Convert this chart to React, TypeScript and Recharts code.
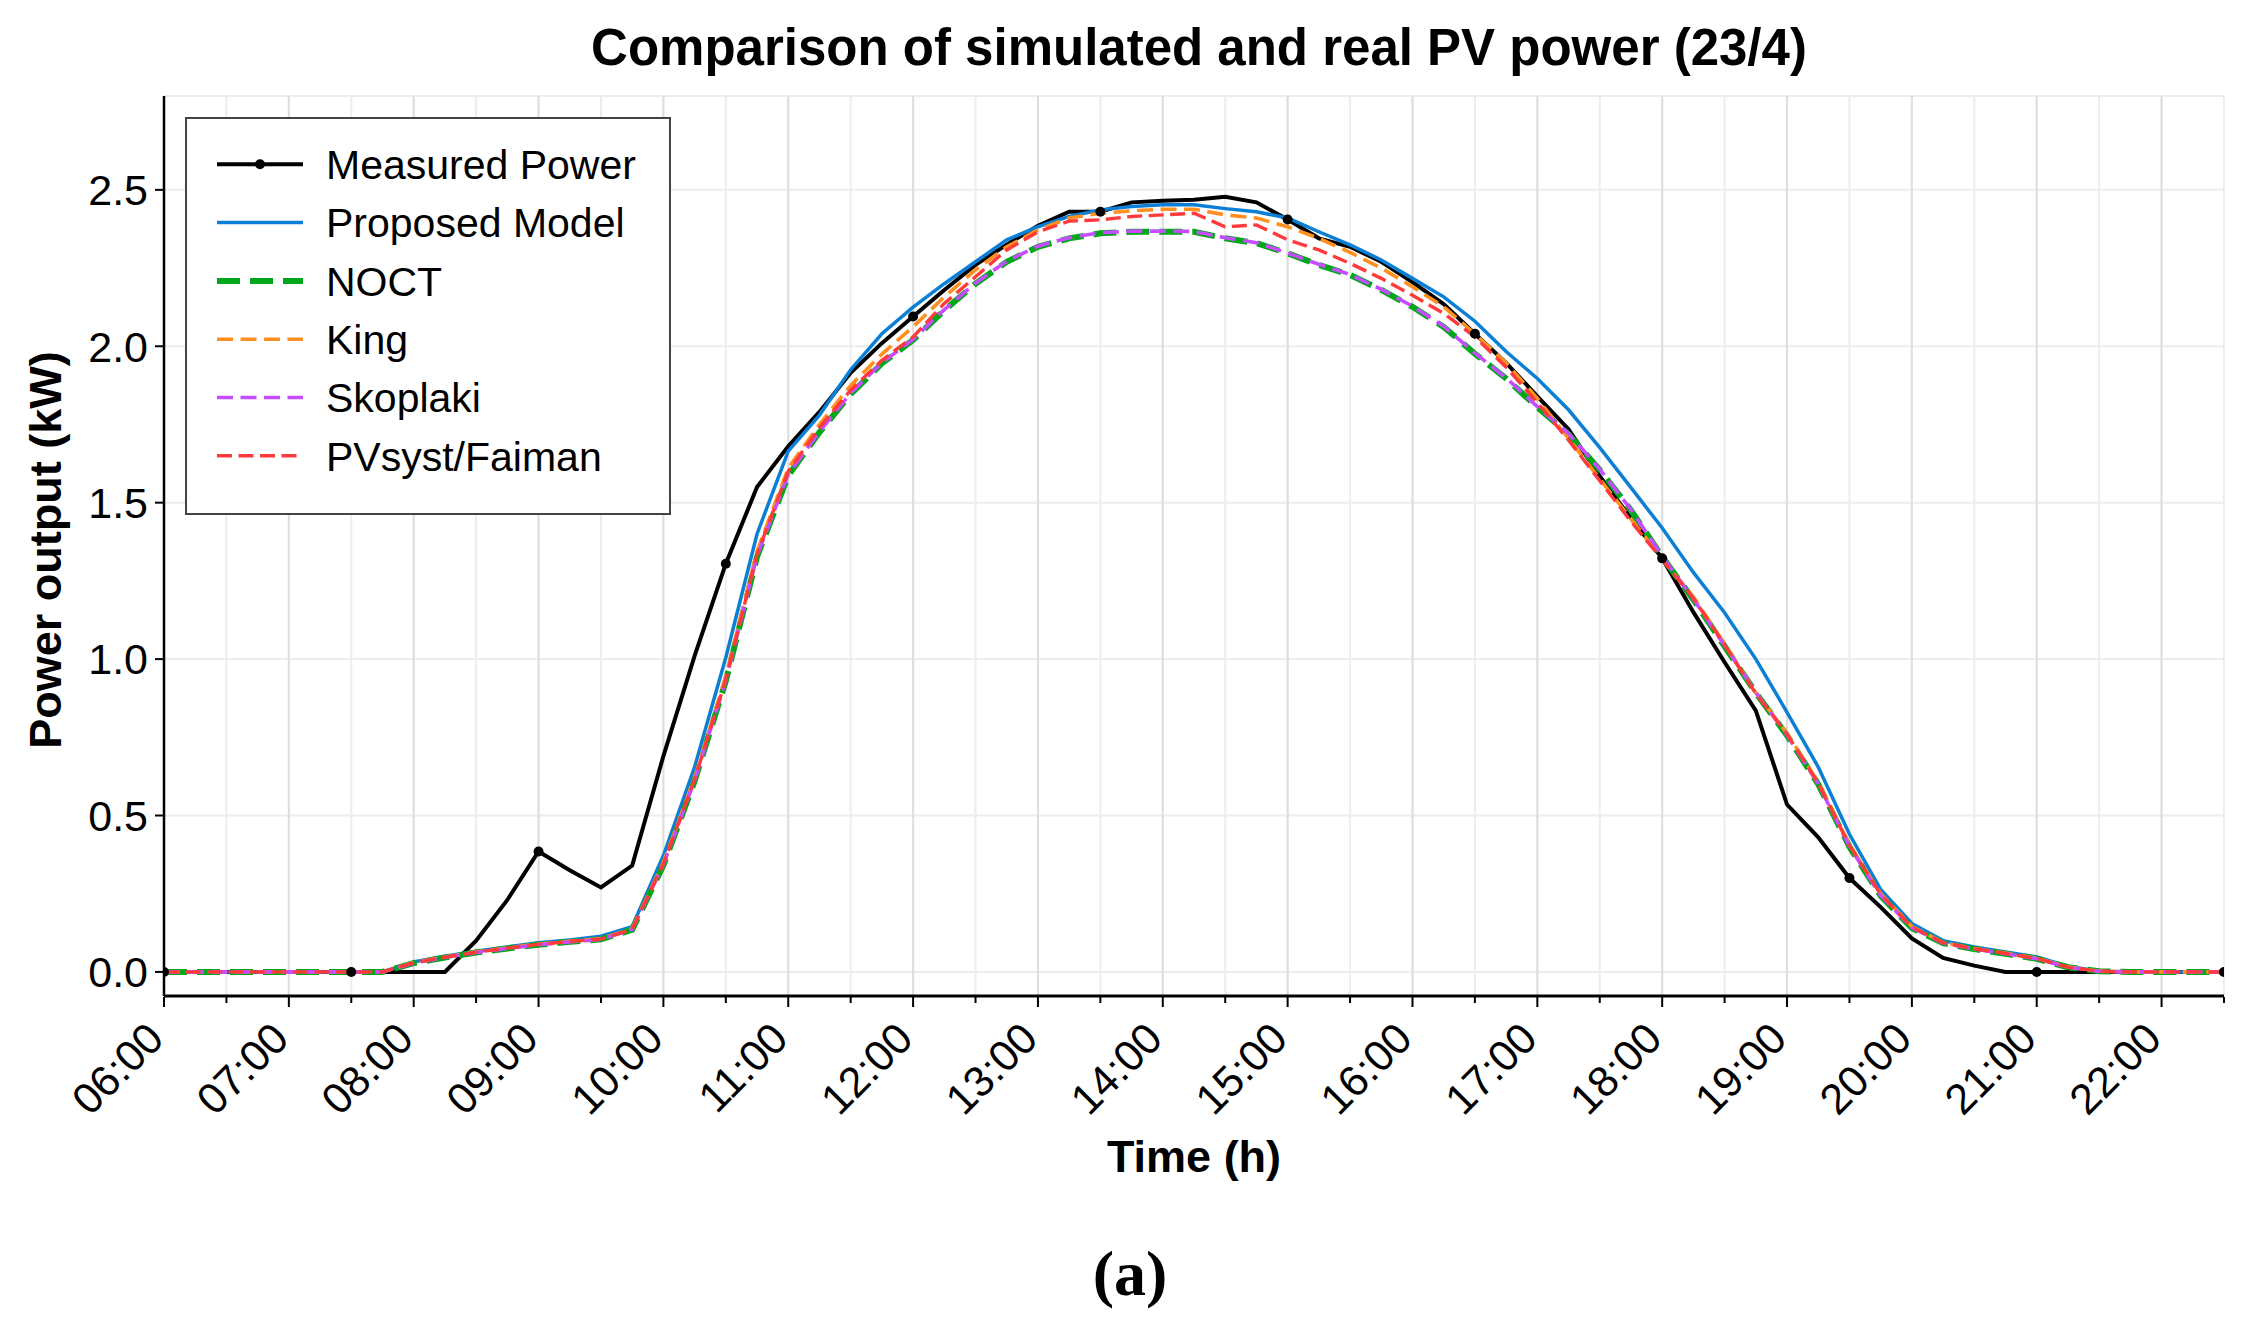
import React from 'react'
import { LineChart, Line, XAxis, YAxis, CartesianGrid, ReferenceLine, Legend } from 'recharts'

// 15-min samples, 06:00 .. 22:30
const TIMES = [
  '06:00', '06:15', '06:30', '06:45', '07:00', '07:15', '07:30', '07:45',
  '08:00', '08:15', '08:30', '08:45', '09:00', '09:15', '09:30', '09:45',
  '10:00', '10:15', '10:30', '10:45', '11:00', '11:15', '11:30', '11:45',
  '12:00', '12:15', '12:30', '12:45', '13:00', '13:15', '13:30', '13:45',
  '14:00', '14:15', '14:30', '14:45', '15:00', '15:15', '15:30', '15:45',
  '16:00', '16:15', '16:30', '16:45', '17:00', '17:15', '17:30', '17:45',
  '18:00', '18:15', '18:30', '18:45', '19:00', '19:15', '19:30', '19:45',
  '20:00', '20:15', '20:30', '20:45', '21:00', '21:15', '21:30', '21:45',
  '22:00', '22:15', '22:30',
]

const MEASURED = [
  0, 0, 0, 0, 0, 0, 0, 0, 0, 0, 0.10, 0.23, 0.385, 0.325, 0.27, 0.34,
  0.69, 1.01, 1.305, 1.55, 1.68, 1.79, 1.915, 2.01, 2.095, 2.18, 2.26, 2.325,
  2.385, 2.43, 2.43, 2.46, 2.465, 2.468, 2.478, 2.46, 2.405, 2.345, 2.318, 2.27,
  2.205, 2.135, 2.04, 1.947, 1.84, 1.735, 1.585, 1.45, 1.322, 1.15, 0.99, 0.835,
  0.535, 0.43, 0.30, 0.207, 0.107, 0.045, 0.02, 0, 0, 0, 0, 0, 0, 0, 0,
]

const PROPOSED = [
  0, 0, 0, 0, 0, 0, 0, 0, 0.032, 0.05, 0.066, 0.08, 0.093, 0.102, 0.114, 0.145,
  0.372, 0.655, 1.005, 1.40, 1.665, 1.78, 1.925, 2.04, 2.125, 2.20, 2.27, 2.34,
  2.382, 2.415, 2.436, 2.447, 2.452, 2.452, 2.44, 2.43, 2.41, 2.366, 2.324, 2.276,
  2.217, 2.158, 2.08, 1.983, 1.897, 1.797, 1.676, 1.548, 1.419, 1.277, 1.148, 1.0,
  0.83, 0.655, 0.44, 0.264, 0.155, 0.10, 0.08, 0.064, 0.048, 0.018, 0.002, 0, 0, 0, 0,
]

const NOCT = [
  0, 0, 0, 0, 0, 0, 0, 0, 0.028, 0.046, 0.062, 0.075, 0.087, 0.096, 0.104, 0.135,
  0.341, 0.61, 0.93, 1.327, 1.587, 1.725, 1.847, 1.945, 2.02, 2.115, 2.2, 2.27,
  2.318, 2.345, 2.361, 2.366, 2.366, 2.366, 2.345, 2.33, 2.297, 2.26, 2.228, 2.18,
  2.126, 2.062, 1.976, 1.897, 1.805, 1.719, 1.605, 1.476, 1.327, 1.19, 1.041, 0.892,
  0.756, 0.60, 0.40, 0.243, 0.14, 0.092, 0.073, 0.058, 0.042, 0.015, 0.002, 0, 0, 0, 0,
]

const KING = [
  0, 0, 0, 0, 0, 0, 0, 0, 0.03, 0.048, 0.064, 0.077, 0.089, 0.098, 0.106, 0.138,
  0.35, 0.62, 0.945, 1.345, 1.61, 1.75, 1.875, 1.975, 2.062, 2.158, 2.244, 2.318,
  2.372, 2.41, 2.425, 2.433, 2.438, 2.438, 2.42, 2.41, 2.382, 2.345, 2.30, 2.25,
  2.19, 2.126, 2.04, 1.947, 1.833, 1.705, 1.576, 1.448, 1.32, 1.198, 1.049, 0.892,
  0.763, 0.606, 0.407, 0.25, 0.145, 0.094, 0.075, 0.06, 0.044, 0.016, 0.002, 0, 0, 0, 0,
]

const SKOPLAKI = [
  0, 0, 0, 0, 0, 0, 0, 0, 0.028, 0.046, 0.062, 0.075, 0.087, 0.096, 0.104, 0.136,
  0.343, 0.612, 0.932, 1.33, 1.59, 1.727, 1.85, 1.947, 2.022, 2.117, 2.202, 2.272,
  2.32, 2.347, 2.363, 2.368, 2.368, 2.367, 2.347, 2.331, 2.298, 2.262, 2.229, 2.182,
  2.128, 2.064, 1.978, 1.899, 1.807, 1.721, 1.607, 1.478, 1.329, 1.192, 1.043, 0.894,
  0.757, 0.601, 0.401, 0.244, 0.141, 0.092, 0.073, 0.058, 0.042, 0.015, 0.002, 0, 0, 0, 0,
]

const FAIMAN = [
  0, 0, 0, 0, 0, 0, 0, 0, 0.029, 0.047, 0.063, 0.076, 0.088, 0.097, 0.105, 0.136,
  0.345, 0.615, 0.935, 1.335, 1.60, 1.74, 1.86, 1.955, 2.03, 2.137, 2.222, 2.308,
  2.366, 2.40, 2.404, 2.415, 2.42, 2.425, 2.382, 2.388, 2.34, 2.308, 2.265, 2.217,
  2.163, 2.105, 2.03, 1.933, 1.82, 1.70, 1.57, 1.44, 1.318, 1.195, 1.045, 0.89,
  0.76, 0.603, 0.404, 0.248, 0.143, 0.093, 0.074, 0.059, 0.043, 0.015, 0.002, 0, 0, 0, 0,
]

const HOUR_TICKS = [
  '06:00', '07:00', '08:00', '09:00', '10:00', '11:00', '12:00', '13:00', '14:00',
  '15:00', '16:00', '17:00', '18:00', '19:00', '20:00', '21:00', '22:00',
]
const HALF_TICKS = [
  '06:30', '07:30', '08:30', '09:30', '10:30', '11:30', '12:30', '13:30', '14:30',
  '15:30', '16:30', '17:30', '18:30', '19:30', '20:30', '21:30', '22:30',
]
const Y_TICKS = [0, 0.5, 1.0, 1.5, 2.0, 2.5]

const FONT = '"Liberation Sans", Arial, Helvetica, sans-serif'

const toHours = (s: string) => {
  const [h, m] = s.split(':').map(Number)
  return h + m / 60
}

const data = TIMES.map((t, i) => ({
  t: toHours(t),
  measured: MEASURED[i],
  proposed: PROPOSED[i],
  noct: NOCT[i],
  king: KING[i],
  skoplaki: SKOPLAKI[i],
  faiman: FAIMAN[i],
}))

const SERIES = [
  { key: 'measured', name: 'Measured Power', color: '#000000', width: 4, dash: undefined },
  { key: 'proposed', name: 'Proposed Model', color: '#0b7fd6', width: 3.5, dash: undefined },
  { key: 'noct', name: 'NOCT', color: '#00a819', width: 6, dash: '23 10' },
  { key: 'king', name: 'King', color: '#ff9020', width: 3.6, dash: '16 7.5' },
  { key: 'skoplaki', name: 'Skoplaki', color: '#c64cff', width: 3.6, dash: '16 7.5' },
  { key: 'faiman', name: 'PVsyst/Faiman', color: '#ff3a3a', width: 3.4, dash: '15 6.5' },
]

const hourTickValues = HOUR_TICKS.map(toHours)
const allTickValues = [...HOUR_TICKS, ...HALF_TICKS].map(toHours).sort((a, b) => a - b)

function XTick(props: any) {
  const { x, y, payload } = props
  const label = HOUR_TICKS.find((h) => toHours(h) === payload.value)
  const len = label ? 10 : 6
  return (
    <g>
      <line x1={x} x2={x} y1={y} y2={y + len} stroke="#000" strokeWidth={2} />
      {label && (
        <text
          x={x + 2}
          y={y + 44}
          textAnchor="end"
          transform={`rotate(-45, ${x + 2}, ${y + 44})`}
          fontSize={43}
          fontFamily={FONT}
          fill="#000"
        >
          {label}
        </text>
      )}
    </g>
  )
}

function MeasuredDot(props: any) {
  const { cx, cy, index } = props
  if (index % 6 !== 0) return <g key={`d${index}`} />
  return <circle key={`d${index}`} cx={cx} cy={cy} r={5} fill="#000" />
}

function LegendBox() {
  return (
    <svg width={486} height={398}>
      <rect x={1} y={1} width={484} height={396} fill="#fff" stroke="#444" strokeWidth={2} />
      {SERIES.map((s, i) => {
        const cy = 47.3 + i * 58.3
        return (
          <g key={s.key}>
            <line
              x1={32}
              x2={118}
              y1={cy}
              y2={cy}
              stroke={s.color}
              strokeWidth={s.width}
              strokeDasharray={s.dash}
            />
            {s.key === 'measured' && <circle cx={75} cy={cy} r={5} fill="#000" />}
            <text x={141} y={cy} dy="0.36em" fontSize={41} fontFamily={FONT} fill="#000">
              {s.name}
            </text>
          </g>
        )
      })}
    </svg>
  )
}

export default function App() {
  return (
    <div
      style={{
        position: 'absolute',
        left: 0,
        top: 0,
        width: 2249,
        height: 1333,
        background: '#fff',
        fontFamily: FONT,
      }}
    >
      <LineChart
        width={2249}
        height={1333}
        data={data}
        margin={{ top: 96, right: 25, left: 0, bottom: 327 }}
      >
        <CartesianGrid stroke="#ededed" strokeWidth={2} />
        {hourTickValues.map((h) => (
          <ReferenceLine key={h} x={h} stroke="#dedede" strokeWidth={2} />
        ))}
        <XAxis
          type="number"
          dataKey="t"
          domain={[6, 22.5]}
          ticks={allTickValues}
          interval={0}
          allowDataOverflow
          height={10}
          tickSize={1}
          tickMargin={0}
          tickLine={false}
          tick={<XTick />}
          axisLine={{ stroke: '#000', strokeWidth: 3 }}
        />
        <YAxis
          type="number"
          domain={[-0.077, 2.8]}
          ticks={Y_TICKS}
          interval={0}
          allowDataOverflow
          width={164}
          tickSize={9}
          tickMargin={7}
          tickFormatter={(v: number) => v.toFixed(1)}
          tick={{ fill: '#000', fontSize: 43, fontFamily: FONT }}
          tickLine={{ stroke: '#000', strokeWidth: 2 }}
          axisLine={{ stroke: '#000', strokeWidth: 2.5 }}
        />
        <Legend
          layout="vertical"
          align="center"
          verticalAlign="middle"
          content={() => <LegendBox />}
          wrapperStyle={{ left: 185, top: 117, width: 486, height: 398 }}
        />
        {SERIES.map((s) => (
          <Line
            key={s.key}
            type="linear"
            dataKey={s.key}
            name={s.name}
            stroke={s.color}
            strokeWidth={s.width}
            strokeDasharray={s.dash}
            dot={s.key === 'measured' ? <MeasuredDot /> : false}
            activeDot={false}
            isAnimationActive={false}
          />
        ))}
      </LineChart>

      <div
        style={{
          position: 'absolute',
          left: 1199,
          top: 47,
          transform: 'translate(-50%, -50%)',
          whiteSpace: 'nowrap',
          fontSize: 51,
          fontWeight: 'bold',
        }}
      >
        Comparison of simulated and real PV power (23/4)
      </div>
      <div
        style={{
          position: 'absolute',
          left: 46,
          top: 550,
          transform: 'translate(-50%, -50%) rotate(-90deg)',
          whiteSpace: 'nowrap',
          fontSize: 45,
          fontWeight: 'bold',
        }}
      >
        Power output (kW)
      </div>
      <div
        style={{
          position: 'absolute',
          left: 1194,
          top: 1157,
          transform: 'translate(-50%, -50%)',
          whiteSpace: 'nowrap',
          fontSize: 45,
          fontWeight: 'bold',
        }}
      >
        Time (h)
      </div>
      <div
        style={{
          position: 'absolute',
          left: 1130,
          top: 1274,
          transform: 'translate(-50%, -50%)',
          whiteSpace: 'nowrap',
          fontSize: 64,
          fontWeight: 'bold',
          fontFamily: '"Liberation Serif", "DejaVu Serif", serif',
        }}
      >
        (a)
      </div>
    </div>
  )
}
